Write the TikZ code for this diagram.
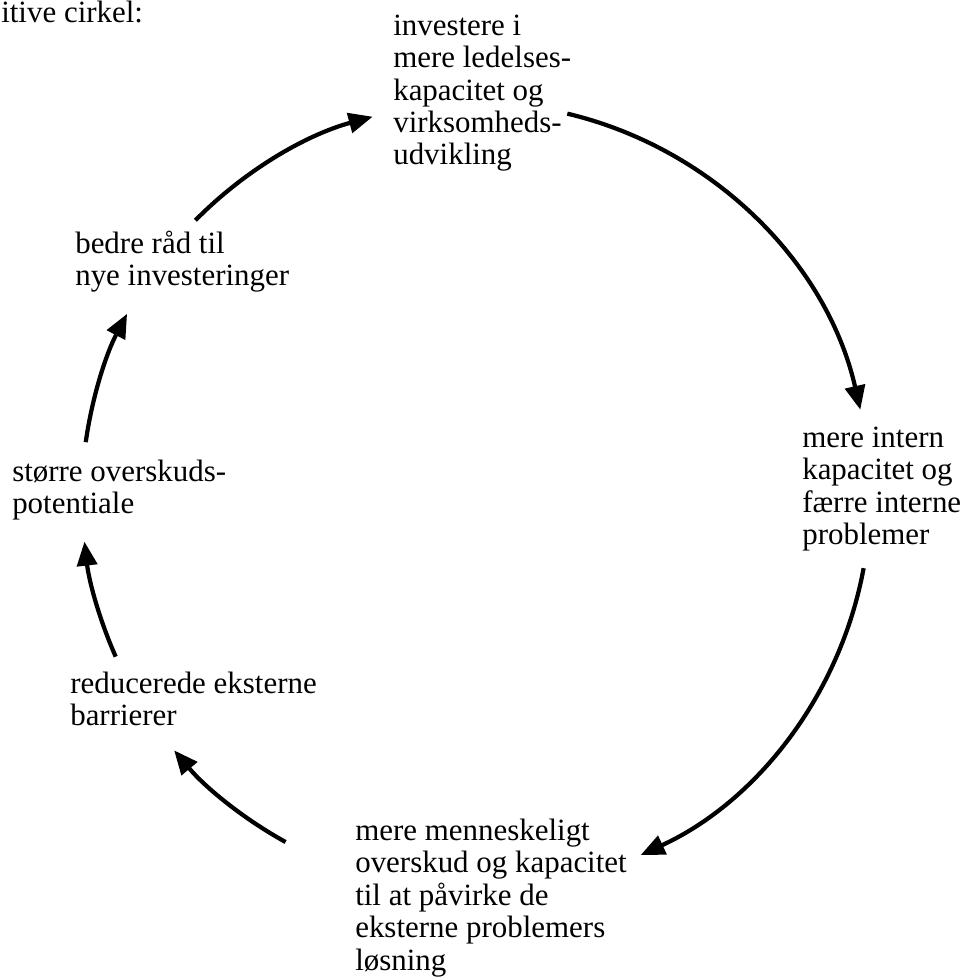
\documentclass[tikz,border=0pt]{standalone}
\usepackage{fontspec}
\setmainfont{Liberation Serif}
\usetikzlibrary{arrows.meta, positioning}

\begin{document}
\begin{tikzpicture}[x=0.025cm, y=0.025cm,
      txt/.style={align=left, inner sep=0pt, anchor=base west,
        font=\fontsize{22}{23.1}\selectfont},
      pil/.style={line width=3pt, -{Triangle[length=6mm, width=5mm]}}]
    \useasboundingbox (0,0) rectangle (966,-978);
    % centre of the circle the arrows run on
    \coordinate (m) at (476,-497);
    \def\R{9.85cm}
    % text nodes, placed at the baseline of their last line
    \node[txt] (titel) at (1,-23) {itive cirkel:};
    \node[txt] (invest) at (393,-165)
      {investere i\\mere ledelses-\\kapacitet og\\virksomheds-\\udvikling};
    \node[txt] (intern) at (802,-544.5)
      {mere intern\\kapacitet og\\færre interne\\problemer};
    \node[txt] (overskud) at (355,-970)
      {mere menneskeligt\\overskud og kapacitet\\til at påvirke de\\eksterne problemers\\løsning};
    \node[txt] (barrierer) at (70,-725.5) {reducerede eksterne\\barrierer};
    \node[txt] (potentiale) at (12,-513.5) {større overskuds-\\potentiale};
    \node[txt] (raad) at (75,-285.5) {bedre råd til\\nye investeringer};
    % the six arrows of the circle
    \foreach \a/\b in {135.4/105.2, 76.6/12.8, -10.4/-65.3, 241.1/220, 203.9/186.5, 172/152.3}
      \draw[pil] (m) ++(\a:\R) arc[start angle=\a, end angle=\b, radius=\R];
\end{tikzpicture}
\end{document}
